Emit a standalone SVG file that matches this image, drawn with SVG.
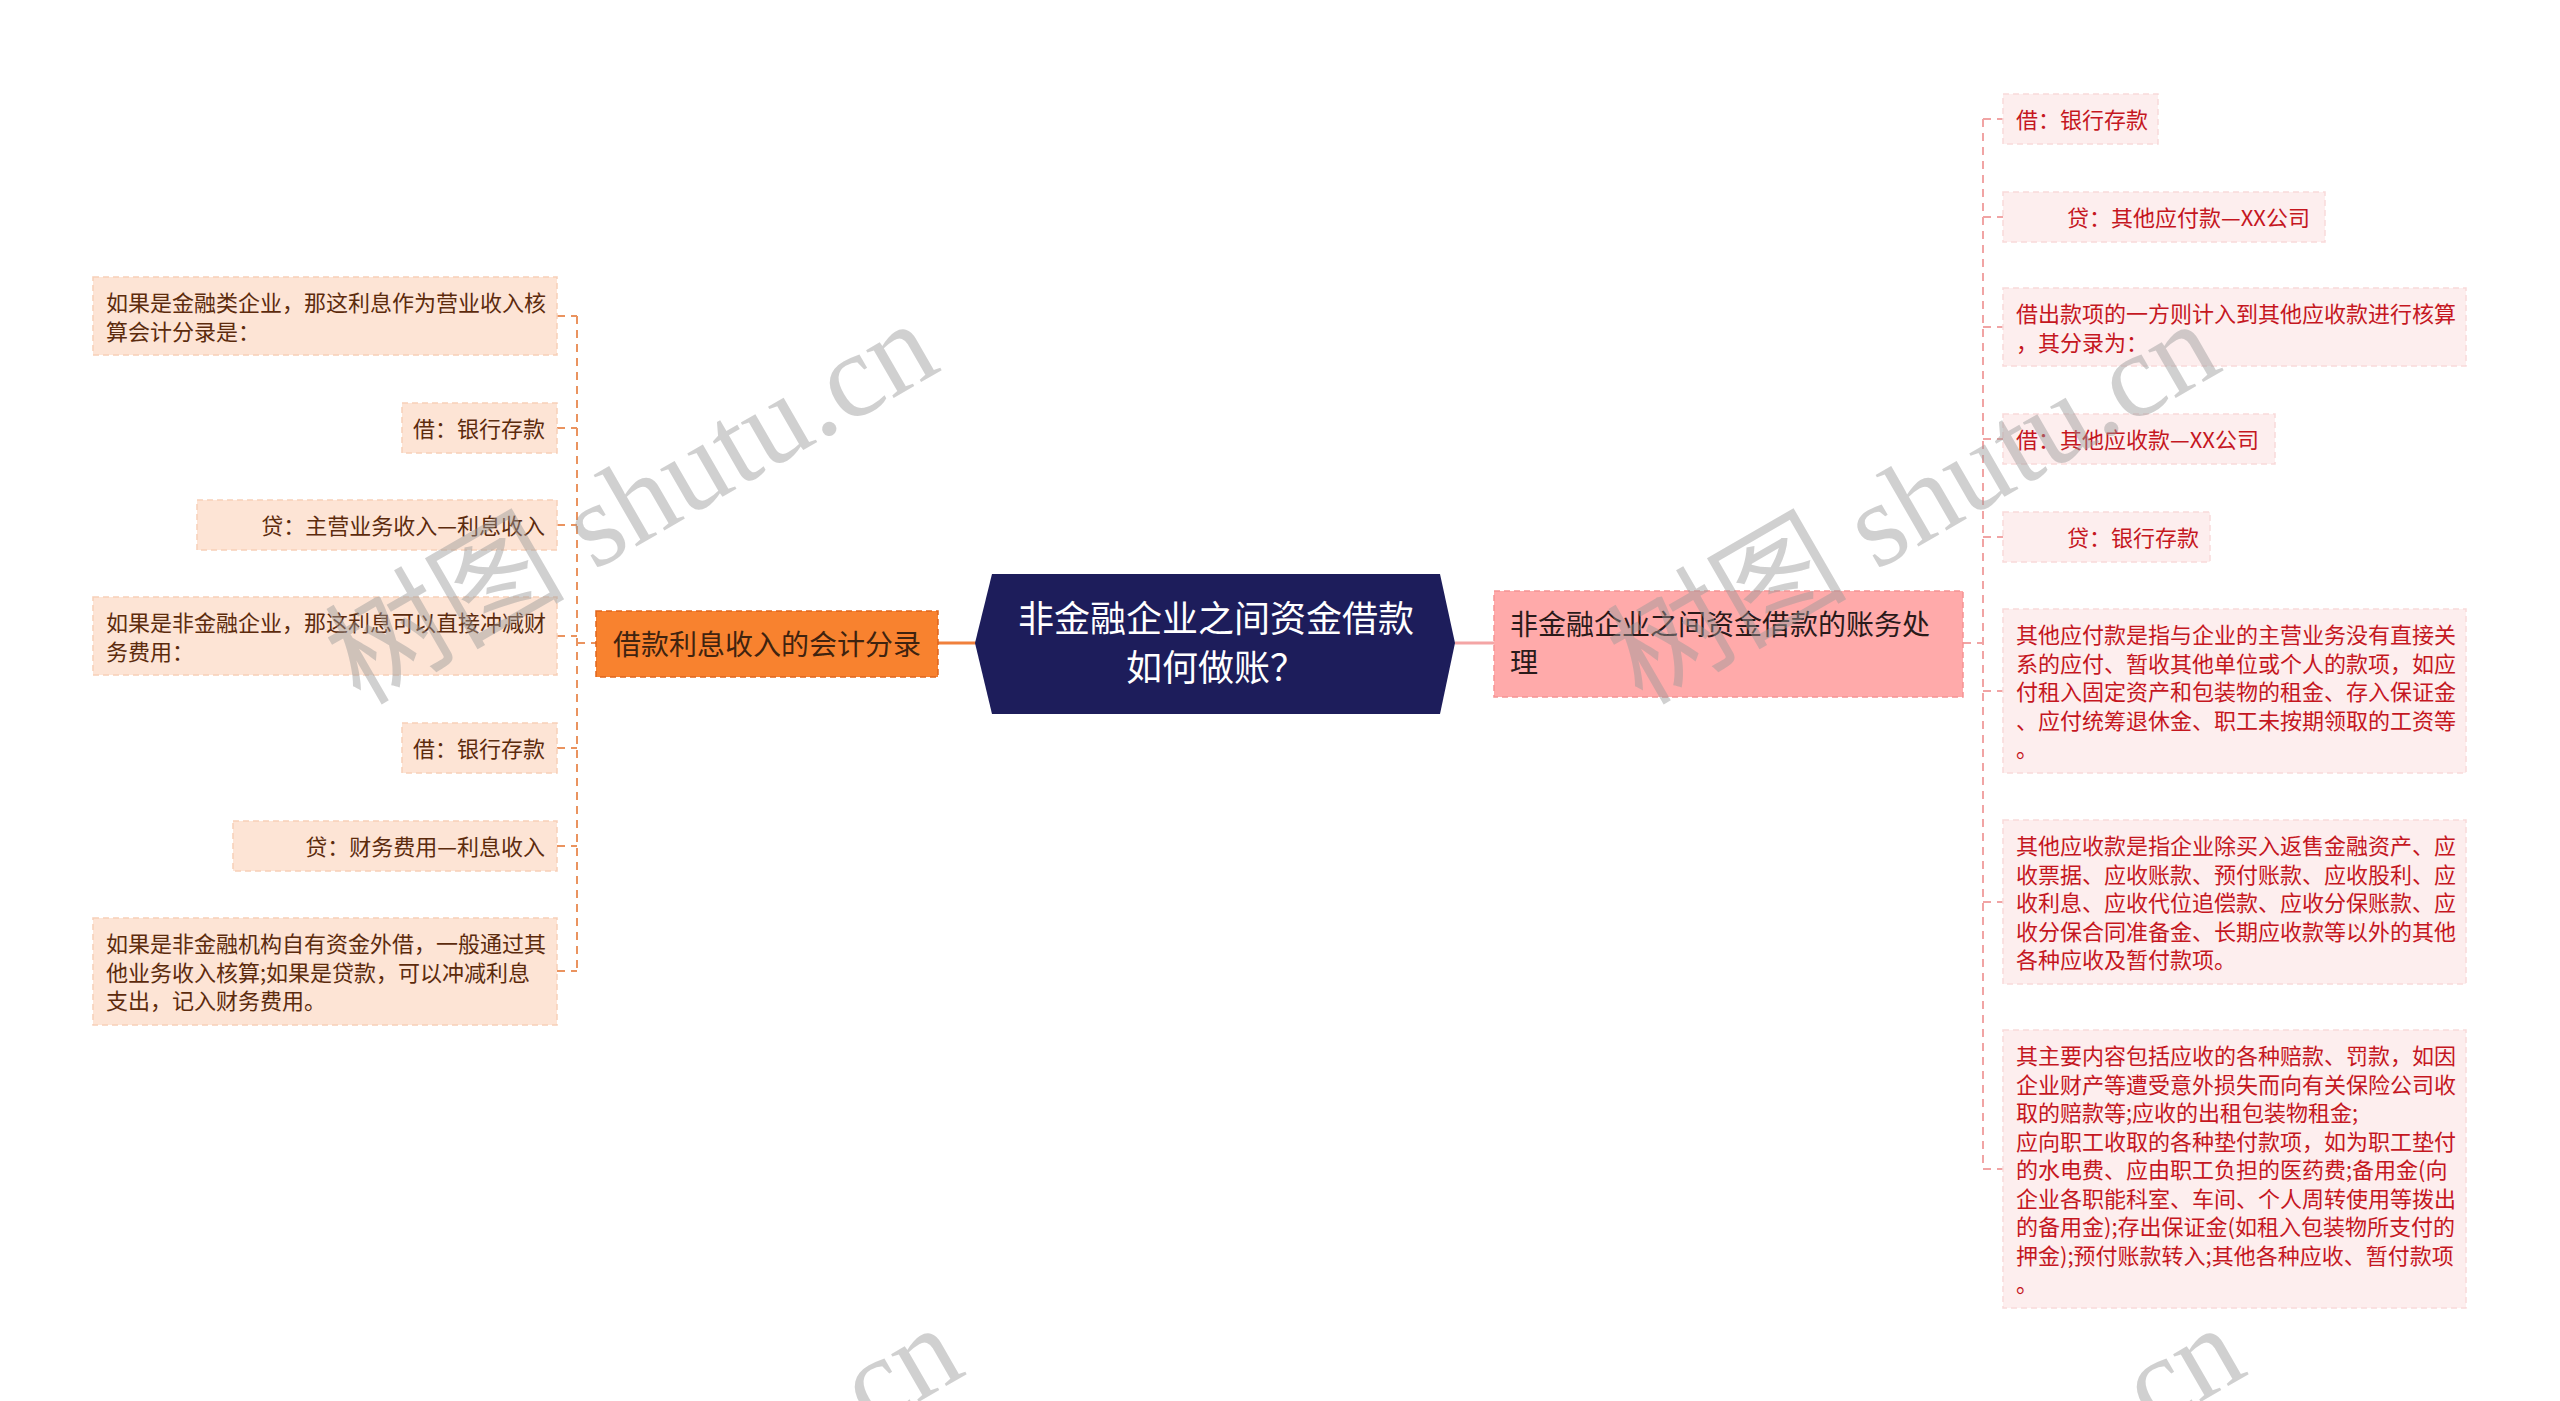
<svg xmlns="http://www.w3.org/2000/svg" width="2560" height="1401" viewBox="0 0 2560 1401">
<style>
text{font-family:"Noto Sans CJK SC","Noto Sans",sans-serif}
.lc{stroke:#ea935f;stroke-width:2;stroke-dasharray:8 6;fill:none}
.rc{stroke:#f1a4a4;stroke-width:2;stroke-dasharray:8 6;fill:none}
.ln rect{fill:#fde4d5;stroke:#f7cfb8;stroke-width:1.5;stroke-dasharray:6 4}
.ln text{fill:#5c2b0d;font-size:22px}
.rn rect{fill:#fdeeee;stroke:#f9dada;stroke-width:1.5;stroke-dasharray:6 4}
.rn text{fill:#c5171f;font-size:22px}
.wm{font-family:"Liberation Serif","Noto Sans CJK SC",serif;font-size:120px;fill:#999;opacity:0.45}
</style>
<rect width="2560" height="1401" fill="#ffffff"/>
<g id="connectors">
<line x1="938" y1="643" x2="976" y2="643" stroke="#f0803c" stroke-width="3"/>
<line x1="1455" y1="643" x2="1494" y2="643" stroke="#f4a5a5" stroke-width="3"/>
<path class="lc" d="M577,316 V971"/>
<path class="lc" d="M557,316 H577 M557,428 H577 M557,525 H577 M557,636 H577 M557,748 H577 M557,846 H577 M557,971 H577 M577,643 H596"/>
<path class="rc" d="M1983,119 V1169"/>
<path class="rc" d="M1983,119 H2003 M1983,217 H2003 M1983,327 H2003 M1983,439 H2003 M1983,537 H2003 M1983,691 H2003 M1983,902 H2003 M1983,1169 H2003 M1963,643 H1983"/>
</g>
<g id="root">
<polygon points="992,574 1440,574 1455,643 1440,714 992,714 975,643" fill="#1d1d5b"/>
<text x="1216" y="632" font-size="36" fill="#ffffff" text-anchor="middle">非金融企业之间资金借款</text>
<text x="1216" y="681" font-size="36" fill="#ffffff" text-anchor="middle">如何做账？</text>
</g>
<g id="branch-left">
<rect x="596" y="611" width="342" height="66" fill="#f8822f" stroke="#e0661c" stroke-width="1.5" stroke-dasharray="6 4"/>
<text x="767" y="655" font-size="28" fill="#3f230f" text-anchor="middle">借款利息收入的会计分录</text>
</g>
<g id="branch-right">
<rect x="1494" y="591" width="469" height="106" fill="#ffaaaa" stroke="#f59494" stroke-width="1.5" stroke-dasharray="6 4"/>
<text font-size="28" fill="#2a1a1a"><tspan x="1510" y="635">非金融企业之间资金借款的账务处</tspan><tspan x="1510" y="673">理</tspan></text>
</g>
<g id="l1" class="ln"><rect x="93" y="277" width="464" height="78"/><text><tspan x="106" y="311">如果是金融类企业，那这利息作为营业收入核</tspan><tspan x="106" y="339.5">算会计分录是：</tspan></text></g>
<g id="l2" class="ln"><rect x="402" y="403" width="155" height="50"/><text x="545" y="437" text-anchor="end">借：银行存款</text></g>
<g id="l3" class="ln"><rect x="197" y="500" width="360" height="50"/><text x="545" y="534" text-anchor="end">贷：主营业务收入—利息收入</text></g>
<g id="l4" class="ln"><rect x="93" y="597" width="464" height="78"/><text><tspan x="106" y="631">如果是非金融企业，那这利息可以直接冲减财</tspan><tspan x="106" y="659.5">务费用：</tspan></text></g>
<g id="l5" class="ln"><rect x="402" y="723" width="155" height="50"/><text x="545" y="757" text-anchor="end">借：银行存款</text></g>
<g id="l6" class="ln"><rect x="233" y="821" width="324" height="50"/><text x="545" y="855" text-anchor="end">贷：财务费用—利息收入</text></g>
<g id="l7" class="ln"><rect x="93" y="918" width="464" height="107"/><text><tspan x="106" y="952">如果是非金融机构自有资金外借，一般通过其</tspan><tspan x="106" y="980.5">他业务收入核算;如果是贷款，可以冲减利息</tspan><tspan x="106" y="1009">支出，记入财务费用。</tspan></text></g>
<g id="r1" class="rn"><rect x="2003" y="94" width="155" height="50"/><text x="2016" y="128">借：银行存款</text></g>
<g id="r2" class="rn"><rect x="2003" y="192" width="322" height="50"/><text x="2067" y="226">贷：其他应付款—XX公司</text></g>
<g id="r3" class="rn"><rect x="2003" y="288" width="463" height="78"/><text><tspan x="2016" y="322">借出款项的一方则计入到其他应收款进行核算</tspan><tspan x="2016" y="350.5">，其分录为：</tspan></text></g>
<g id="r4" class="rn"><rect x="2003" y="414" width="272" height="50"/><text x="2016" y="448">借：其他应收款—XX公司</text></g>
<g id="r5" class="rn"><rect x="2003" y="512" width="207" height="50"/><text x="2067" y="546">贷：银行存款</text></g>
<g id="r6" class="rn"><rect x="2003" y="609" width="463" height="164"/><text><tspan x="2016" y="643">其他应付款是指与企业的主营业务没有直接关</tspan><tspan x="2016" y="671.5">系的应付、暂收其他单位或个人的款项，如应</tspan><tspan x="2016" y="700">付租入固定资产和包装物的租金、存入保证金</tspan><tspan x="2016" y="728.5">、应付统筹退休金、职工未按期领取的工资等</tspan><tspan x="2016" y="757">。</tspan></text></g>
<g id="r7" class="rn"><rect x="2003" y="820" width="463" height="164"/><text><tspan x="2016" y="854">其他应收款是指企业除买入返售金融资产、应</tspan><tspan x="2016" y="882.5">收票据、应收账款、预付账款、应收股利、应</tspan><tspan x="2016" y="911">收利息、应收代位追偿款、应收分保账款、应</tspan><tspan x="2016" y="939.5">收分保合同准备金、长期应收款等以外的其他</tspan><tspan x="2016" y="968">各种应收及暂付款项。</tspan></text></g>
<g id="r8" class="rn"><rect x="2003" y="1030" width="463" height="278"/><text><tspan x="2016" y="1064">其主要内容包括应收的各种赔款、罚款，如因</tspan><tspan x="2016" y="1092.5">企业财产等遭受意外损失而向有关保险公司收</tspan><tspan x="2016" y="1121">取的赔款等;应收的出租包装物租金;</tspan><tspan x="2016" y="1149.5">应向职工收取的各种垫付款项，如为职工垫付</tspan><tspan x="2016" y="1178">的水电费、应由职工负担的医药费;备用金(向</tspan><tspan x="2016" y="1206.5">企业各职能科室、车间、个人周转使用等拨出</tspan><tspan x="2016" y="1235">的备用金);存出保证金(如租入包装物所支付的</tspan><tspan x="2016" y="1263.5">押金);预付账款转入;其他各种应收、暂付款项</tspan><tspan x="2016" y="1292">。</tspan></text></g>
<g id="watermarks">
<text class="wm" transform="translate(360,706) rotate(-30)">树图 shutu.cn</text>
<text class="wm" transform="translate(1642,706) rotate(-30)">树图 shutu.cn</text>
<text class="wm" transform="translate(385,1710) rotate(-30)">树图 shutu.cn</text>
<text class="wm" transform="translate(1667,1710) rotate(-30)">树图 shutu.cn</text>
</g>
</svg>
